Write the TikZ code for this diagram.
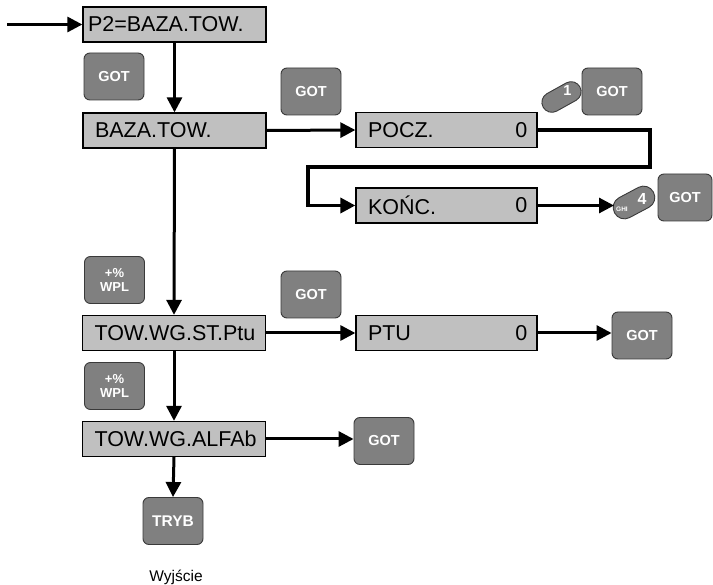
\documentclass[tikz,border=0pt]{standalone}
\usepackage{fontspec}
\setmainfont{Liberation Sans}
\usetikzlibrary{arrows.meta,calc}
\definecolor{boxgray}{HTML}{C0C0C0}
\definecolor{btngray}{HTML}{808080}
\definecolor{btnedge}{HTML}{3A3A3A}
\tikzset{
  dispbox/.style={draw=black, line width=1.3pt, fill=boxgray, minimum height=35pt,
    text width=159pt, inner xsep=12pt, align=left,
    font=\fontsize{21.5}{24}\selectfont},
  valtext/.style={inner sep=0pt, anchor=east, font=\fontsize{21.5}{24}\selectfont},
  btn/.style={draw=btnedge, line width=0.9pt, fill=btngray, rounded corners=6pt,
    minimum width=60pt, minimum height=47pt, text=white, align=center,
    font=\bfseries\fontsize{14.5}{16}\selectfont},
  smallbtn/.style={btn, font=\bfseries\fontsize{13}{14}\selectfont},
  pill/.style={draw=btnedge, line width=0.9pt, fill=btngray, rounded corners=10pt,
    minimum width=42pt, minimum height=20pt, inner sep=0pt},
  pilltext/.style={text=white, inner sep=0pt, font=\bfseries\fontsize{14.5}{16}\selectfont},
  flow/.style={line width=3pt, -{Triangle[length=15pt,width=15pt]}},
  bigflow/.style={line width=3.6pt, -{Triangle[length=15pt,width=15pt]}},
}
\begin{document}
\begin{tikzpicture}[x=1pt,y=-1pt]
\useasboundingbox (0,0) rectangle (713,585);
% display boxes
\node[dispbox, inner xsep=5pt, text width=173pt] (p2) at (174.5,24.5) {P2=BAZA.TOW.};
\node[dispbox] (baza) at (174.5,130.5) {BAZA.TOW.};
\node[dispbox] (st) at (174,333) {TOW.WG.ST.Ptu};
\node[dispbox] (alfa) at (174,439) {TOW.WG.ALFAb};
\node[dispbox, text width=157pt] (pocz) at (446.5,130) {POCZ.};
\node[dispbox, text width=157pt] (konc) at (446.5,205.5) {KOŃC.};
\node[dispbox, text width=157pt] (ptu) at (446.5,333) {PTU};
\node[valtext] (pocz0) at ($(pocz.east)+(-10,0)$) {0};
\node[valtext] (konc0) at ($(konc.east)+(-10,0)$) {0};
\node[valtext] (ptu0) at ($(ptu.east)+(-10,0)$) {0};
% buttons
\node[btn] (got1) at (114,76.5) {GOT};
\node[btn] (got2) at (311,91.5) {GOT};
\node[btn] (got3) at (612,91.5) {GOT};
\node[btn, minimum width=54pt] (got4) at (685,197.5) {GOT};
\node[smallbtn] (wpl1) at (114.5,280) {+\%\\WPL};
\node[btn] (got5) at (311,294.5) {GOT};
\node[btn] (got6) at (642,335.5) {GOT};
\node[smallbtn] (wpl2) at (114.5,386) {+\%\\WPL};
\node[btn] (got7) at (384,441) {GOT};
\node[btn, font=\bfseries\fontsize{15.5}{17}\selectfont] (tryb) at (173,521) {TRYB};
% keys
\node[pill, rotate=29] (k1) at (561.5,97) {};
\node[pilltext] (k1n) at (567.5,90.5) {1};
\node[pill, rotate=28, minimum width=44pt, minimum height=22.5pt, rounded corners=11pt] (k4) at (634,202.5) {};
\node[pilltext, font=\bfseries\fontsize{16}{18}\selectfont] (k4n) at (642,199) {4};
\node[pilltext, font=\bfseries\fontsize{6.5}{7}\selectfont] (k4l) at (622,209) {GHI};
% exit label
\node[font=\fontsize{15.5}{18}\selectfont] (exit) at (176,577) {Wyjście};
% connectors
\coordinate (start) at (7,24.5);
\coordinate (k4in) at (614,206);
\draw[flow] (start) -- (p2.west);
\draw[flow] (p2.south) -- (baza.north);
\draw[flow] (baza.east) -- (pocz.west);
\draw[bigflow] (pocz.east) -- (650,130) -- (650,167) -- (308,167) -- (308,205.5) -- (konc.west);
\draw[flow] (konc.east) -- (konc.east -| k4in);
\draw[flow] (baza.south) -- (st.north);
\draw[flow] (st.east) -- (ptu.west);
\draw[flow] (ptu.east) -- (ptu.east -| got6.west);
\draw[flow] (st.south) -- (alfa.north);
\draw[flow] (alfa.east) -- (alfa.east -| got7.west);
\draw[flow] (alfa.south) -- (tryb.north);
\end{tikzpicture}
\end{document}
